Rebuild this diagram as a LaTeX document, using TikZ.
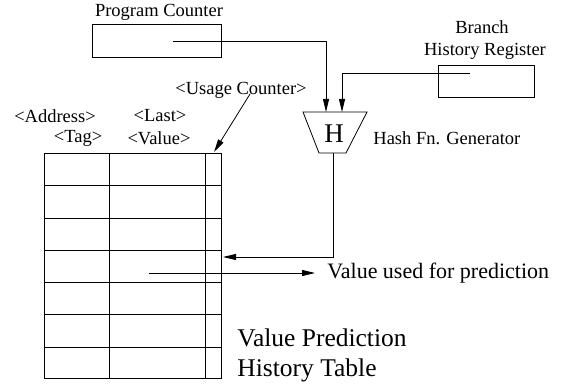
\documentclass[tikz,border=0pt]{standalone}
\usepackage{fontspec}
\setmainfont{Liberation Serif}
\usetikzlibrary{arrows.meta}
\begin{document}
\begin{tikzpicture}[x=1pt,y=-1pt,line width=0.8pt,
  lbl/.style={inner sep=0pt,font=\fontsize{18.5}{20}\selectfont},
  biglbl/.style={inner sep=0pt,anchor=west,font=\fontsize{25.5}{28}\selectfont},
  regbox/.style={draw,inner sep=0pt,anchor=north west},
  arr/.style={-{Triangle[length=13pt,width=6pt]}},
  grid/.style={line width=0.9pt}]
\useasboundingbox (0,0) rectangle (562,385);
% registers
\node[regbox,minimum width=129,minimum height=33] (pc) at (92,24) {};
\node[lbl] (pclbl) at (159,12) {Program Counter};
\node[regbox,minimum width=96,minimum height=32] (bhr) at (438,65) {};
\node[lbl] (br1) at (482,27) {Branch};
\node[lbl] (br2) at (485,51) {History Register};
\coordinate (pcout) at (173,41);
\coordinate (bhrout) at (470,73);
% hash generator
\draw (303,112) -- (367,112) -- (346,153) -- (319,153) -- cycle;
\node[inner sep=0pt,font=\fontsize{27}{30}\selectfont] (H) at (334,134) {H};
\coordinate (hin1) at (326,112);
\coordinate (hin2) at (342,112);
\coordinate (hout) at (333,153);
\node[lbl,anchor=west] (hashlbl) at (373,138) {Hash Fn. Generator};
\draw[arr] (pcout) -| (hin1);
\draw[arr] (bhrout) -| (hin2);
% table
\node[regbox,grid,minimum width=177,minimum height=225] (tbl) at (44,153) {};
\foreach \yy in {185,218,250,282,314,347} \draw[grid] (44,\yy) -- (221,\yy);
\foreach \xx in {109,205} \draw[grid] (\xx,153) -- (\xx,378);
\node[lbl] (addr) at (55,116) {<Address>};
\node[lbl] (last) at (160,116) {<Last>};
\node[lbl] (tag) at (78,138) {<Tag>};
\node[lbl] (val) at (159,138) {<Value>};
\node[lbl] (usage) at (241,90) {<Usage Counter>};
\coordinate (ustart) at (250,94);
\coordinate (uend) at (214,152);
\draw[arr] (ustart) -- (uend);
\coordinate (tin) at (223,257);
\draw[arr] (hout) |- (tin);
\coordinate (vstart) at (149,273);
\node[lbl,anchor=west,font=\fontsize{22}{24}\selectfont] (vused) at (327,273) {Value used for prediction};
\draw[arr] (vstart) -- ([xshift=-12pt]vused.west);
\node[biglbl] (vp1) at (237,338) {Value Prediction};
\node[biglbl] (vp2) at (237,370) {History Table};
\end{tikzpicture}
\end{document}
